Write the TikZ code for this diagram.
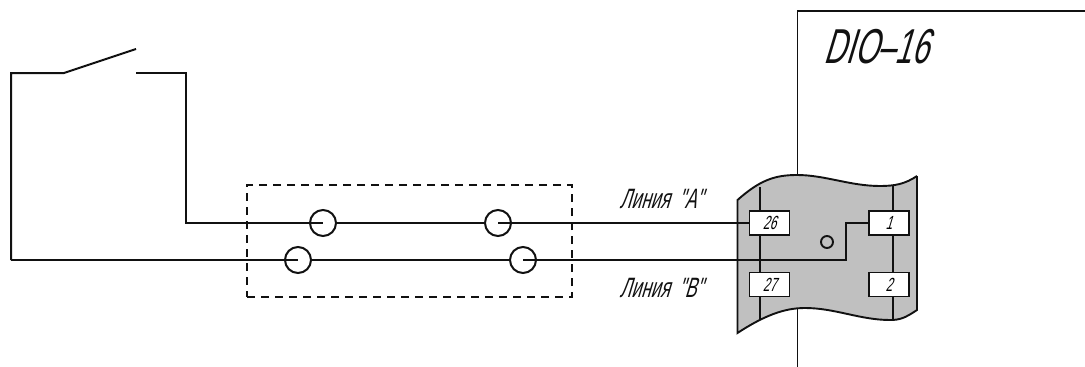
\documentclass[tikz,border=0pt]{standalone}
\usepackage{fontspec}
\newfontfamily\gost[FakeSlant=0.3,FakeStretch=0.62]{Liberation Sans}
\definecolor{panelgray}{HTML}{C0C0C0}
\definecolor{ink}{HTML}{111111}
\tikzset{
  wire/.style={draw=ink,line width=2pt},
  frameline/.style={draw=ink,line width=1.9pt},
  conn/.style={circle,draw=ink,line width=2pt,minimum size=26pt,inner sep=0pt},
  pin/.style={rectangle,draw=ink,fill=white,line width=1.8pt,minimum width=40pt,minimum height=24pt,inner sep=0pt,font=\gost\fontsize{19}{19}\selectfont},
  lbl/.style={inner sep=0pt,text=ink,font=\gost\fontsize{28}{28}\selectfont},
  shield/.style={draw=ink,line width=1.7pt,dash pattern=on 8pt off 6pt},
}
\begin{document}
\begin{tikzpicture}[x=1pt,y=-1pt]
\useasboundingbox (0,0) rectangle (1085,367);
% Panel of the board
\coordinate (ptl) at (737.5,200);
\coordinate (ptr) at (917,176);
\coordinate (pbr) at (917,310);
\coordinate (pbl) at (737.5,333);
\path[fill=panelgray] (ptl) .. controls (760,180) and (775,175) .. (797,175)
  .. controls (825,175) and (850,186) .. (880,186)
  .. controls (895,186) and (905,184) .. (ptr) -- (pbr)
  .. controls (905,318) and (900,320) .. (890,320)
  .. controls (860,320) and (835,308) .. (805,308)
  .. controls (785,308) and (765,315) .. (pbl) -- cycle;
\draw[frameline] (760,187) -- (760,319);
\draw[frameline] (893,186) -- (893,320);
\draw[frameline] (ptr) -- (pbr) .. controls (905,318) and (900,320) .. (890,320)
  .. controls (860,320) and (835,308) .. (805,308)
  .. controls (785,308) and (765,315) .. (pbl) -- (ptl)
  .. controls (760,180) and (775,175) .. (797,175)
  .. controls (825,175) and (850,186) .. (880,186)
  .. controls (895,186) and (905,184) .. (ptr);
% DIO-16 outline
\coordinate (ftr) at (1085,11);
\coordinate (ftl) at (797.5,11);
\coordinate (fmt) at (797.5,175);
\coordinate (fmb) at (797.5,308);
\coordinate (fbt) at (797.5,367);
\draw[frameline] (ftr) -- (ftl) -- (fmt);
\draw[frameline] (fmb) -- (fbt);
\node[inner sep=0pt,text=ink,font=\gost\fontsize{49}{49}\selectfont] (dio) at (876,47) {DIO–16};
% Pins
\node[pin] (p26) at (769.5,223) {26};
\node[pin] (p1) at (889,223) {1};
\node[pin] (p27) at (769.5,284.5) {27};
\node[pin] (p2) at (889,284.5) {2};
\node[circle,draw=ink,line width=1.9pt,minimum size=12pt,inner sep=0pt] (hole) at (827,242) {};
% Connectors
\node[conn] (a1) at (323,223) {};
\node[conn] (a2) at (498,223) {};
\node[conn] (b1) at (298,260) {};
\node[conn] (b2) at (523,260) {};
% Shield
\node[shield,rectangle,minimum width=325pt,minimum height=112pt,inner sep=0pt] (box) at (409.5,241) {};
% Switch and wires
\coordinate (sl) at (11,73);
\coordinate (sh) at (64,73);
\coordinate (st) at (136,49);
\coordinate (sr) at (136,73);
\coordinate (sc) at (186,73);
\coordinate (sa) at (186,223);
\coordinate (sb) at (11,260);
\coordinate (bk1) at (845.5,260);
\coordinate (bk2) at (845.5,223);
\draw[wire] (sb) -- (sl) -- (sh) -- (st);
\draw[wire] (sr) -- (sc) -- (sa) -- (a1.center);
\draw[wire] (a1.east) -- (a2.west);
\draw[wire] (a2.center) -- (p26.west);
\draw[wire] (sb) -- (b1.center);
\draw[wire] (b1.east) -- (b2.west);
\draw[wire] (b2.center) -- (bk1) -- (bk2) -- (p1.west);
% Labels
\node[lbl] (la) at (661,199) {Линия\hspace{9pt}"A"};
\node[lbl] (lb) at (661,288) {Линия\hspace{9pt}"B"};
\end{tikzpicture}
\end{document}
